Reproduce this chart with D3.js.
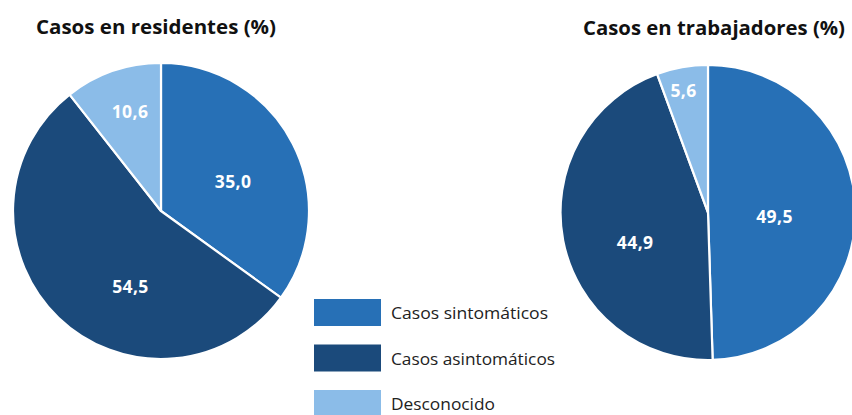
<!DOCTYPE html>
<html><head><meta charset="utf-8">
<script src="https://cdn.jsdelivr.net/npm/d3@7"></script>
<style>body{margin:0;background:#fff;overflow:hidden}svg{display:block}</style>
</head><body>
<svg id="c" width="852" height="415"></svg>
<script>
// ---- data ----
const categories = ["Casos sintomáticos", "Casos asintomáticos", "Desconocido"];
const residentes = [35.0, 54.5, 10.6];
const trabajadores = [49.5, 44.9, 5.6];
const titles = ["Casos en residentes (%)", "Casos en trabajadores (%)"];

// ---- layout / style ----
const colors = ["#2770b6", "#1b4a7b", "#8bbce8"];
const legendWidths = [157, 164, 104];
const pies = [
  {values: residentes, title: titles[0], cx: 161, cy: 211, r: 148, tx: 36, ty: 34, tw: 240,
   nudge: [[-7, 11], [31, 12], [-2, -15]]},
  {values: trabajadores, title: titles[1], cx: 708, cy: 212.5, r: 147.5, tx: 583, ty: 35, tw: 262,
   nudge: [[-22, 6], [14, 13], [-9, -35]]}
];
const fmt = v => d3.format(".1f")(v).replace(".", ",");
const font = "'Open Sans', 'Noto Sans', sans-serif";

const svg = d3.select("#c");
const color = d3.scaleOrdinal().domain(categories).range(colors);

pies.forEach(p => {
  const data = p.values.map((v, i) => ({cat: categories[i], v}));
  const pie = d3.pie().value(d => d.v).sort(null);
  const arc = d3.arc().innerRadius(0).outerRadius(p.r);
  const labelArc = d3.arc().innerRadius(p.r * 0.6).outerRadius(p.r * 0.6);
  const g = svg.append("g").attr("transform", `translate(${p.cx},${p.cy})`);
  const arcs = pie(data);
  g.selectAll("path").data(arcs).join("path")
    .attr("d", arc).attr("fill", d => color(d.data.cat))
    .attr("stroke", "#fff").attr("stroke-width", 2.2).attr("stroke-linejoin", "round");
  g.selectAll("text").data(arcs).join("text")
    .attr("transform", (d, i) => {
      const [x, y] = labelArc.centroid(d);
      return `translate(${x + p.nudge[i][0]},${y + p.nudge[i][1]})`;
    })
    .attr("text-anchor", "middle").attr("dy", "0.36em")
    .attr("font-family", font).attr("font-weight", 700).attr("font-size", 17.5)
    .attr("letter-spacing", 0.4)
    .attr("fill", "#fff").text(d => fmt(d.data.v));
  svg.append("text").attr("x", p.tx).attr("y", p.ty)
    .attr("font-family", font).attr("font-weight", 700).attr("font-size", 20)
    .attr("fill", "#111").attr("textLength", p.tw).attr("lengthAdjust", "spacingAndGlyphs")
    .text(p.title);
});

// legend
const leg = svg.append("g");
const legY = d3.scalePoint().domain(categories).range([299, 390]);
categories.forEach((c, i) => {
  const y = legY(c);
  leg.append("rect").attr("x", 314).attr("y", y).attr("width", 67).attr("height", 27).attr("fill", color(c));
  leg.append("text").attr("x", 391).attr("y", y + 20)
    .attr("font-family", font).attr("font-size", 16.5).attr("fill", "#222")
    .attr("textLength", legendWidths[i]).attr("lengthAdjust", "spacingAndGlyphs").text(c);
});
</script>
</body></html>
